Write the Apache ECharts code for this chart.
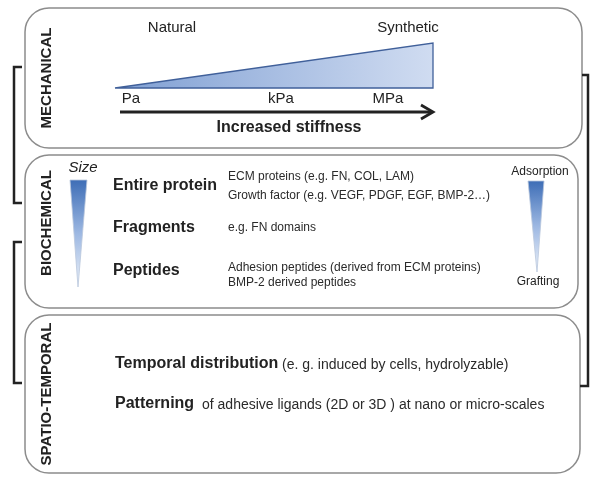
<!DOCTYPE html>
<html>
<head>
<meta charset="utf-8">
<script src="https://cdn.jsdelivr.net/npm/echarts@6/dist/echarts.min.js"></script>
<style>
html,body{margin:0;padding:0;background:#fff;}
#main{width:600px;height:483px;}
</style>
</head>
<body>
<div id="main"></div>
<script>
// ---- content (text only) ----
const panelTitles = ['MECHANICAL', 'BIOCHEMICAL', 'SPATIO-TEMPORAL'];
const stiffnessEnds = ['Natural', 'Synthetic'];
const stiffnessUnits = ['Pa', 'kPa', 'MPa'];
const stiffnessAxisLabel = 'Increased stiffness';
const sizeLabel = 'Size';
const bioCategories = ['Entire protein', 'Fragments', 'Peptides'];
const bioExamples = [
  ['ECM proteins (e.g. FN, COL, LAM)', 'Growth factor (e.g. VEGF, PDGF, EGF, BMP-2\u2026)'],
  ['e.g. FN domains'],
  ['Adhesion peptides (derived from ECM proteins)', 'BMP-2 derived peptides']
];
const attachEnds = ['Adsorption', 'Grafting'];
const spatioTerms = ['Temporal distribution', 'Patterning'];
const spatioDetails = ['(e. g. induced by cells, hydrolyzable)', 'of adhesive ligands (2D or 3D ) at nano or micro-scales'];

// ---- layout ----
const FONT = '"Liberation Sans", Arial, Helvetica, sans-serif';
const DARK = '#222';
const BOX = '#8c8c8c';
const els = [];

function txt(x, y, s, size, opt) {
  opt = opt || {};
  els.push({
    type: 'text', x: x, y: y, rotation: opt.rot || 0, z: 10,
    style: {
      text: s, x: 0, y: 0,
      fill: opt.color || DARK,
      font: (opt.italic ? 'italic ' : '') + (opt.bold ? 'bold ' : '') + size + 'px ' + FONT,
      textAlign: opt.align || 'left',
      textVerticalAlign: 'middle'
    }
  });
}
function box(x1, y1, x2, y2) {
  els.push({
    type: 'rect', shape: { x: x1, y: y1, width: x2 - x1, height: y2 - y1, r: 24 },
    style: { fill: '#fff', stroke: BOX, lineWidth: 1.5 }
  });
}
function poly(points, lw, color) {
  els.push({ type: 'polyline', shape: { points: points }, style: { stroke: color || DARK, lineWidth: lw, fill: null }, z: 5 });
}

// brackets
poly([[22, 67], [14, 67], [14, 203], [22, 203]], 2.5);
poly([[22, 242], [14, 242], [14, 383], [22, 383]], 2.5);
poly([[582, 75], [588, 75], [588, 386], [580, 386]], 2.5);

// boxes
box(25, 8, 582, 148);
box(25, 155, 578, 308);
box(25, 315, 580, 473);

// vertical panel titles
const titleY = [78, 223, 394];
panelTitles.forEach((t, i) => txt(47, titleY[i], t, 15, { bold: true, rot: Math.PI / 2, align: 'center' }));

// ---- mechanical panel ----
els.push({
  type: 'polygon', z: 6,
  shape: { points: [[115, 88], [433, 88], [433, 43]] },
  style: {
    fill: { type: 'linear', x: 0, y: 0, x2: 1, y2: 0,
      colorStops: [{ offset: 0, color: '#7f9fd3' }, { offset: 1, color: '#d0dcf1' }] },
    stroke: '#40609a', lineWidth: 1.3
  }
});
txt(172, 28, stiffnessEnds[0], 15, { align: 'center' });
txt(408, 28, stiffnessEnds[1], 15, { align: 'center' });
const unitX = [131, 281, 388];
stiffnessUnits.forEach((u, i) => txt(unitX[i], 99, u, 15, { align: 'center' }));
poly([[120, 112], [431, 112]], 2.8);
poly([[421, 105], [433, 112], [421, 119]], 2.8);
txt(289, 128, stiffnessAxisLabel, 16, { bold: true, align: 'center' });

// ---- biochemical panel ----
txt(83, 168, sizeLabel, 15, { italic: true, align: 'center' });
function wedge(xl, xr, yt, xt, yb) {
  els.push({
    type: 'polygon', z: 6,
    shape: { points: [[xl, yt], [xr, yt], [xt, yb]] },
    style: {
      fill: { type: 'linear', x: 0, y: 0, x2: 0, y2: 1,
        colorStops: [{ offset: 0, color: '#3d6db6' }, { offset: 0.5, color: '#9db8e2' }, { offset: 1, color: '#eef3fa' }] },
      stroke: '#b9c7dc', lineWidth: 0.8
    }
  });
}
wedge(70, 87, 180, 78, 287);
wedge(528, 544, 181, 537, 272);
txt(540, 172, attachEnds[0], 12, { align: 'center' });
txt(538, 282, attachEnds[1], 12, { align: 'center' });

const catY = [186, 228, 271];
const exY = [[177, 196], [228], [268, 283]];
bioCategories.forEach((c, i) => {
  txt(113, catY[i], c, 16, { bold: true });
  bioExamples[i].forEach((e, j) => txt(228, exY[i][j], e, 12, { color: '#2a2a2a' }));
});

// ---- spatio-temporal panel ----
const spY = [364, 404];
const detailX = [282, 202];
spatioTerms.forEach((t, i) => {
  txt(115, spY[i], t, 16, { bold: true });
  txt(detailX[i], spY[i] + 1, spatioDetails[i], 14, { color: '#2a2a2a' });
});

const chart = echarts.init(document.getElementById('main'), null, { renderer: 'canvas' });
chart.setOption({
  backgroundColor: '#fff',
  animation: false,
  graphic: { elements: els }
});
</script>
</body>
</html>
